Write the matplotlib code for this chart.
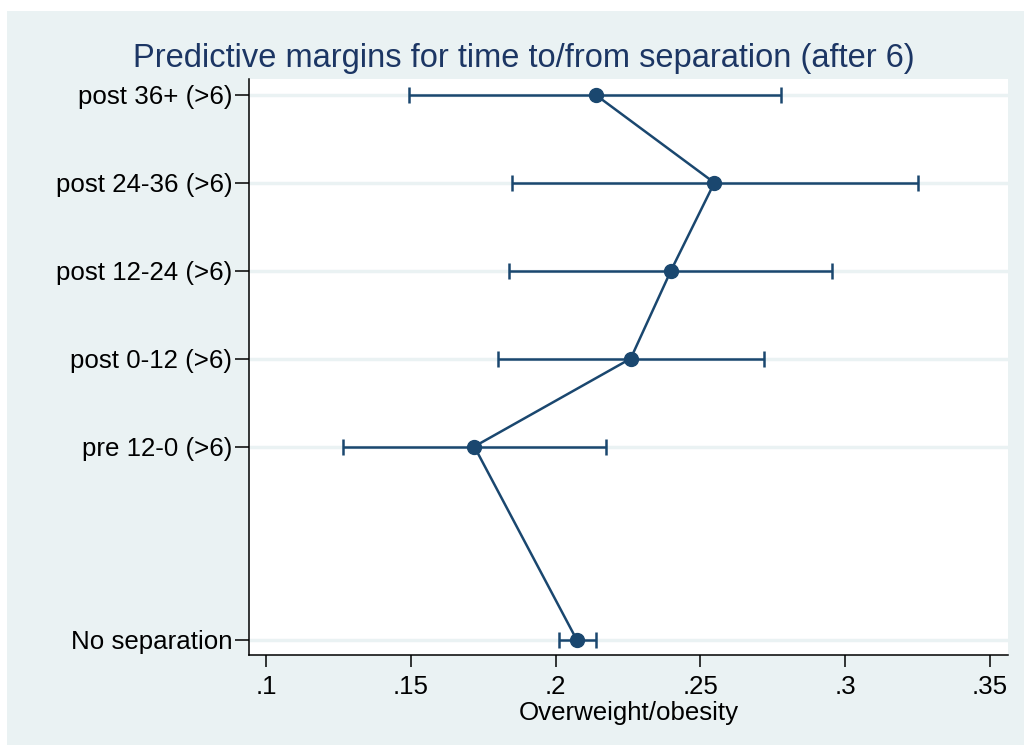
import numpy as np
from matplotlib import pyplot as plt
from matplotlib.patches import Rectangle

# categories, bottom to top
labels = ['No separation', 'pre 12-0 (>6)', 'post 0-12 (>6)',
          'post 12-24 (>6)', 'post 24-36 (>6)', 'post 36+ (>6)']
margin = [0.2073, 0.1719, 0.2259, 0.2398, 0.2548, 0.2138]
ci_low = [0.2012, 0.1264, 0.1802, 0.1839, 0.1848, 0.1495]
ci_high = [0.2139, 0.2174, 0.2720, 0.2955, 0.3252, 0.2779]
xticks = [0.1, 0.15, 0.2, 0.25, 0.3, 0.35]
xticklabels = ['.1', '.15', '.2', '.25', '.3', '.35']

# vertical placement of the categories (gap after "No separation")
ypos = np.array([0, 2.2, 3.2, 4.2, 5.2, 6.2])

navy = '#1a476f'
bg = '#eaf2f3'

plt.rcParams['font.family'] = ['Liberation Sans', 'DejaVu Sans']

fig = plt.figure(figsize=(10.24, 7.47), dpi=100)
fig.patch.set_facecolor('white')
fig.patches.append(Rectangle((6.5 / 1024, 2 / 747), 1 - 6.5 / 1024, 1 - 13 / 747,
                             transform=fig.transFigure, facecolor=bg,
                             edgecolor='none', zorder=-10))

ax = fig.add_axes([249 / 1024, 1 - 655 / 747, 759 / 1024, 576 / 747])
ax.set_facecolor('white')

m = np.array(margin)
err = [m - np.array(ci_low), np.array(ci_high) - m]
ax.errorbar(m, ypos, xerr=err, fmt='none', ecolor=navy, elinewidth=1.8,
            capsize=6, capthick=1.8, zorder=3)
ax.plot(m, ypos, color=navy, lw=1.8, marker='o', markersize=10,
        markerfacecolor=navy, markeredgecolor=navy, zorder=4)

ax.set_xlim(0.0941, 0.3562)
ax.set_ylim(-0.171, 6.38)
ax.set_xticks(xticks)
ax.set_xticklabels(xticklabels)
ax.set_yticks(ypos)
ax.set_yticklabels(labels)

for y in ypos:
    ax.axhline(y, color=bg, lw=2.5, zorder=1)

for s in ['top', 'right']:
    ax.spines[s].set_visible(False)
for s in ['left', 'bottom']:
    ax.spines[s].set_linewidth(1.1)
    ax.spines[s].set_color('black')

ax.tick_params(axis='x', length=8.5, width=1.1, labelsize=18.6, pad=6)
ax.tick_params(axis='y', length=10, width=1.1, labelsize=18.6, pad=2)
ax.set_xlabel('Overweight/obesity', fontsize=18.6, labelpad=1)

fig.text(524 / 1024, 1 - 59 / 747,
         'Predictive margins for time to/from separation (after 6)',
         ha='center', va='center', fontsize=23.5, color='#1c3664')

plt.savefig('out.png', dpi=100)
